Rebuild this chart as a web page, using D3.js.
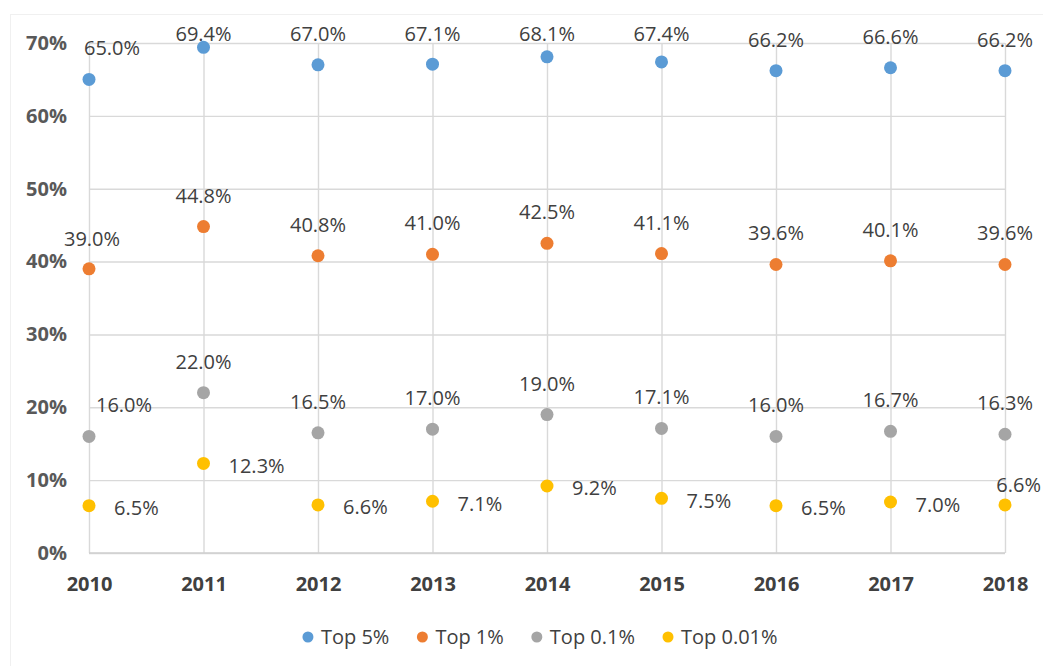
<!DOCTYPE html>
<html>
<head>
<meta charset="utf-8">
<script src="https://cdn.jsdelivr.net/npm/d3@7"></script>
<style>
  html, body { margin: 0; padding: 0; background: #fff; }
  svg { display: block; font-family: "Open Sans", "Noto Sans", sans-serif; }
</style>
</head>
<body>
<svg id="chart" width="1043" height="666"></svg>
<script>
// Years on the category axis
const years = ["2010", "2011", "2012", "2013", "2014", "2015", "2016", "2017", "2018"];

// Income share of each top group (fractions)
const top5 = [0.650, 0.694, 0.670, 0.671, 0.681, 0.674, 0.662, 0.666, 0.662];
const top1 = [0.390, 0.448, 0.408, 0.410, 0.425, 0.411, 0.396, 0.401, 0.396];
const top01 = [0.160, 0.220, 0.165, 0.170, 0.190, 0.171, 0.160, 0.167, 0.163];
const top001 = [0.065, 0.123, 0.066, 0.071, 0.092, 0.075, 0.065, 0.070, 0.066];

// Y axis tick values
const yTicks = [0, 0.1, 0.2, 0.3, 0.4, 0.5, 0.6, 0.7];

const seriesNames = ["Top 5%", "Top 1%", "Top 0.1%", "Top 0.01%"];
const seriesColors = ["#5B9BD5", "#ED7D31", "#A5A5A5", "#FFC000"];
const seriesValues = [top5, top1, top01, top001];
// where each series puts its value labels
const labelPlacement = ["above", "above", "above", "right"];

// hand-nudged labels that would otherwise collide with the axis or edge
const labelNudge = {
  "0-0": { dx: 23, dy: -31 },
  "1-0": { dx: 3, dy: -30 },
  "2-0": { dx: 35, dy: -31 },
  "3-8": { dx: 36, dy: -20, anchor: "end" }
};

const svg = d3.select("#chart");
const W = 1043, H = 666;

// faint outer frame
svg.append("rect")
  .attr("x", 10.5).attr("y", 14.5)
  .attr("width", W).attr("height", H)
  .attr("fill", "none").attr("stroke", "#f0f0f0");

const plot = { left: 89, right: 1005, top: 43, bottom: 553 };

const x = d3.scalePoint().domain(years).range([plot.left, plot.right]);
const y = d3.scaleLinear().domain([0, 0.7]).range([plot.bottom, plot.top]);

// horizontal grid + y labels
const yAxis = svg.append("g")
  .attr("transform", `translate(${plot.left},0)`)
  .call(d3.axisLeft(y)
    .tickValues(yTicks)
    .tickFormat(d3.format(".0%"))
    .tickSizeInner(-(plot.right - plot.left))
    .tickSizeOuter(0)
    .tickPadding(22));
yAxis.select(".domain").remove();
yAxis.selectAll(".tick line").attr("stroke", "#d9d9d9").attr("stroke-width", 1.4);
yAxis.selectAll(".tick text")
  .attr("fill", "#595959").attr("font-size", 20).attr("font-weight", "bold")
  .attr("font-family", "'Open Sans', sans-serif");

// vertical grid + year labels
const xAxis = svg.append("g")
  .attr("transform", `translate(0,${plot.bottom})`)
  .call(d3.axisBottom(x)
    .tickSizeInner(-(plot.bottom - plot.top))
    .tickSizeOuter(0)
    .tickPadding(24));
xAxis.select(".domain").remove();
xAxis.selectAll(".tick line").attr("stroke", "#d9d9d9").attr("stroke-width", 1.4);
xAxis.selectAll(".tick text")
  .attr("fill", "#404040").attr("font-size", 20).attr("font-weight", "bold")
  .attr("font-family", "'Open Sans', sans-serif");

// baseline at 0%
svg.append("line")
  .attr("x1", plot.left).attr("x2", plot.right)
  .attr("y1", y(0)).attr("y2", y(0))
  .attr("stroke", "#cfcfcf").attr("stroke-width", 1.6);

const fmt = d3.format(".1%");

seriesValues.forEach((vals, si) => {
  const g = svg.append("g").attr("class", "series");

  g.selectAll("circle")
    .data(vals)
    .join("circle")
    .attr("cx", (d, i) => x(years[i]))
    .attr("cy", d => y(d))
    .attr("r", 6.5)
    .attr("fill", seriesColors[si]);

  g.selectAll("text")
    .data(vals)
    .join("text")
    .each(function (d, i) {
      const px = x(years[i]), py = y(d);
      const nudge = labelNudge[`${si}-${i}`];
      let tx, ty, anchor;
      if (nudge) {
        tx = px + nudge.dx; ty = py + nudge.dy; anchor = nudge.anchor || "middle";
      } else if (labelPlacement[si] === "right") {
        tx = px + 25; ty = py + 2.5; anchor = "start";
      } else {
        tx = px; ty = Math.max(py - 31, 34); anchor = "middle";
      }
      d3.select(this)
        .attr("x", tx).attr("y", ty)
        .attr("dy", "0.35em")
        .attr("text-anchor", anchor)
        .attr("fill", "#404040")
        .attr("font-size", 20)
        .text(fmt(d));
    });
});

// legend, centred under the plot
const legend = svg.append("g").attr("class", "legend");
const items = legend.selectAll("g")
  .data(seriesNames)
  .join("g");
items.append("circle")
  .attr("r", 5.5)
  .attr("cx", 0).attr("cy", 0)
  .attr("fill", (d, i) => seriesColors[i]);
items.append("text")
  .attr("x", 13).attr("dy", "0.35em")
  .attr("fill", "#404040")
  .attr("font-size", 20)
  .text(d => d);

let cursor = 0;
items.each(function () {
  const w = d3.select(this).select("text").node().getComputedTextLength();
  d3.select(this).attr("transform", `translate(${cursor},0)`);
  cursor += 13 + w + 33;
});
const legendWidth = cursor - 33 + 5.5;
legend.attr("transform", `translate(${540 - legendWidth / 2 + 5.5},637)`);
</script>
</body>
</html>
